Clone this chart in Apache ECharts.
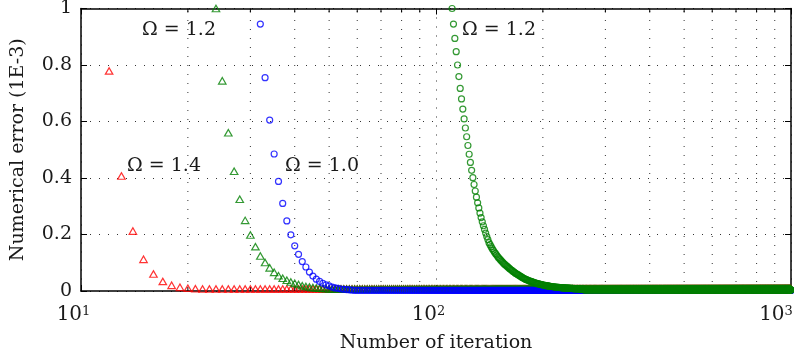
<!DOCTYPE html>
<html>
<head>
<meta charset="utf-8">
<script src="https://cdn.jsdelivr.net/npm/echarts@6/dist/echarts.min.js"></script>
<style>
    html, body { margin: 0; padding: 0; background: #fff; }
    #myChart { width: 794px; height: 360px; }
</style>
</head>
<body>
<div id="myChart"></div>
<script>
    // error values (1E-3), one per iteration, starting at the first visible iteration
    const lastIteration = 1000;

    const omega14Start = 12;
    const omega14 = [0.779, 0.407, 0.212, 0.112, 0.060, 0.034, 0.020, 0.013, 0.010, 0.008];
    const omega14Settled = 0.007;

    const omega12Start = 24;
    const omega12 = [1.000, 0.744, 0.560, 0.424, 0.325, 0.250, 0.198, 0.157, 0.124, 0.101,
        0.082, 0.066, 0.054, 0.045, 0.038, 0.032, 0.027, 0.023, 0.019, 0.016,
        0.014, 0.012, 0.011, 0.010, 0.009, 0.008];
    const omega12Settled = 0.007;

    const omega10Start = 32;
    const omega10 = [0.945, 0.755, 0.605, 0.485, 0.388, 0.310, 0.248, 0.199, 0.160, 0.130,
        0.104, 0.085, 0.067, 0.053, 0.042, 0.034, 0.027, 0.022, 0.018, 0.014,
        0.011, 0.009, 0.007, 0.006, 0.005, 0.004, 0.003];
    const omega10Settled = 0.002;

    const omega12bStart = 111;
    const omega12b = [1.000, 0.945, 0.894, 0.847, 0.800, 0.759, 0.717, 0.680, 0.644, 0.609,
        0.577, 0.546, 0.515, 0.484, 0.455, 0.427, 0.401, 0.377, 0.354, 0.332,
        0.312, 0.294, 0.276, 0.260, 0.245, 0.231, 0.218, 0.205, 0.193, 0.182,
        0.171, 0.164, 0.157, 0.150, 0.144, 0.138, 0.133, 0.128, 0.123, 0.118,
        0.114, 0.110, 0.106, 0.102, 0.098, 0.095, 0.092, 0.089, 0.086, 0.083,
        0.080, 0.077, 0.074, 0.072, 0.069, 0.067, 0.064, 0.062, 0.060, 0.058,
        0.056, 0.054, 0.052, 0.050, 0.048, 0.046, 0.044, 0.043, 0.041, 0.040,
        0.039, 0.037, 0.036, 0.035, 0.034, 0.033, 0.032, 0.031, 0.030, 0.029,
        0.028, 0.027, 0.026, 0.025, 0.025, 0.024, 0.023, 0.023, 0.022, 0.021,
        0.021, 0.020, 0.020, 0.019, 0.019, 0.018, 0.018, 0.017, 0.017, 0.016,
        0.016, 0.016, 0.015, 0.015, 0.015, 0.014, 0.014, 0.014, 0.013, 0.013,
        0.013, 0.013, 0.012, 0.012, 0.012, 0.012, 0.011, 0.011, 0.011, 0.011,
        0.011, 0.010, 0.010, 0.010, 0.010, 0.010, 0.010, 0.009, 0.009, 0.009,
        0.009, 0.009, 0.009, 0.008, 0.008, 0.008, 0.008, 0.008, 0.008, 0.008,
        0.008, 0.007, 0.007, 0.007, 0.007, 0.007, 0.007, 0.007, 0.007, 0.007];
    const omega12bSettled = 0.004;

    const xMajorTicks = [10, 100, 1000];
    const xMinorTicks = [20, 30, 40, 50, 60, 70, 80, 90, 200, 300, 400, 500, 600, 700, 800, 900];

    const serif = '"DejaVu Serif", "Liberation Serif", serif';
    const ink = '#1a1a1a';

    // [iteration, error] pairs; after the listed values the run stays at its settled error
    function toPoints(start, values, settled) {
        const pts = values.map((v, i) => [start + i, v]);
        for (let n = start + values.length; n <= lastIteration; n++) pts.push([n, settled]);
        return pts;
    }

    function scatter(data, symbol, size, color) {
        return {
            type: 'scatter',
            data: data,
            symbol: symbol,
            symbolSize: size,
            clip: false,
            silent: true,
            progressive: 0,
            large: false,
            itemStyle: { color: 'transparent', borderColor: color, borderWidth: 1.2 },
            z: 3
        };
    }

    const myChart = echarts.init(document.getElementById('myChart'), null, { renderer: 'canvas' });

    const dotted = [1, 8];

    myChart.setOption({
        animation: false,
        backgroundColor: '#fff',
        grid: { left: 81, right: 3, top: 8.5, bottom: 69, containLabel: false, outerBoundsMode: 'none' },
        xAxis: [{
            type: 'log',
            logBase: 10,
            min: xMajorTicks[0],
            max: xMajorTicks[xMajorTicks.length - 1],
            position: 'bottom',
            name: 'Number of iteration',
            nameLocation: 'middle',
            nameGap: 43,
            nameTextStyle: { fontFamily: serif, fontSize: 19, color: ink },
            axisLine: { show: true, onZero: false, lineStyle: { color: '#000', width: 1.5 } },
            axisTick: { show: true, inside: true, length: 6, lineStyle: { color: '#000' } },
            splitLine: { show: true, lineStyle: { color: '#333', width: 1, type: dotted } },
            axisLabel: {
                margin: 14,
                formatter: function (v) {
                    const e = Math.round(Math.log10(v));
                    return '{b|10}{s|' + e + '}' + (e === 3 ? '{q| }' : '{p| }');
                },
                rich: {
                    b: { fontFamily: serif, fontSize: 20, color: ink, lineHeight: 20 },
                    s: { fontFamily: serif, fontSize: 13, color: ink, verticalAlign: 'top', lineHeight: 13 },
                    p: { width: 15, fontSize: 10 },
                    q: { width: 30, fontSize: 10 }
                }
            }
        }, {
            type: 'log',
            logBase: 10,
            min: xMajorTicks[0],
            max: xMajorTicks[xMajorTicks.length - 1],
            position: 'top',
            axisLine: { show: true, onZero: false, lineStyle: { color: '#000', width: 1.5 } },
            axisTick: { show: true, inside: true, length: 6, lineStyle: { color: '#000' } },
            axisLabel: { show: false },
            splitLine: { show: false }
        }],
        yAxis: [{
            type: 'value',
            min: 0,
            max: 1,
            interval: 0.2,
            position: 'left',
            name: 'Numerical error (1E-3)',
            nameLocation: 'middle',
            nameGap: 53,
            nameRotate: 90,
            nameTextStyle: { fontFamily: serif, fontSize: 19, color: ink },
            axisLine: { show: true, onZero: false, lineStyle: { color: '#000', width: 1.5 } },
            axisTick: { show: true, inside: true, length: 6, lineStyle: { color: '#000' } },
            splitLine: { show: true, lineStyle: { color: '#333', width: 1, type: dotted } },
            axisLabel: { margin: 9, fontFamily: serif, fontSize: 19, color: ink }
        }, {
            type: 'value',
            min: 0,
            max: 1,
            interval: 0.2,
            position: 'right',
            axisLine: { show: true, onZero: false, lineStyle: { color: '#000', width: 1.5 } },
            axisTick: { show: true, inside: true, length: 6, lineStyle: { color: '#000' } },
            axisLabel: { show: false },
            splitLine: { show: false }
        }],
        graphic: [
            { type: 'text', left: 142, top: 21, style: { text: 'Ω = 1.2', font: '19px ' + serif, fill: ink } },
            { type: 'text', left: 127, top: 157, style: { text: 'Ω = 1.4', font: '19px ' + serif, fill: ink } },
            { type: 'text', left: 285, top: 157, style: { text: 'Ω = 1.0', font: '19px ' + serif, fill: ink } },
            { type: 'text', left: 462, top: 21, style: { text: 'Ω = 1.2', font: '19px ' + serif, fill: ink } }
        ],
        series: [
            {
                // minor grid lines and minor ticks of the log axis
                type: 'custom',
                silent: true,
                z: 1,
                data: xMinorTicks.map(v => [v, 0]),
                encode: { x: 0, y: 1 },
                renderItem: function (params, api) {
                    const x = api.value(0);
                    const bottom = api.coord([x, 0]);
                    const top = api.coord([x, 1]);
                    return {
                        type: 'group',
                        children: [
                            { type: 'line', shape: { x1: bottom[0], y1: bottom[1], x2: top[0], y2: top[1] },
                              style: { stroke: '#333', lineWidth: 1, lineDash: dotted } },
                            { type: 'line', shape: { x1: bottom[0], y1: bottom[1], x2: bottom[0], y2: bottom[1] - 4 },
                              style: { stroke: '#000', lineWidth: 1 } },
                            { type: 'line', shape: { x1: top[0], y1: top[1], x2: top[0], y2: top[1] + 4 },
                              style: { stroke: '#000', lineWidth: 1 } }
                        ]
                    };
                }
            },
            scatter(toPoints(omega14Start, omega14, omega14Settled), 'triangle', [7.5, 6.5], '#ff0000'),
            scatter(toPoints(omega12Start, omega12, omega12Settled), 'triangle', [7.5, 6.5], '#008000'),
            scatter(toPoints(omega10Start, omega10, omega10Settled), 'circle', 6, '#0000ff'),
            scatter(toPoints(omega12bStart, omega12b, omega12bSettled), 'circle', 6, '#008000')
        ]
    });
</script>
</body>
</html>
